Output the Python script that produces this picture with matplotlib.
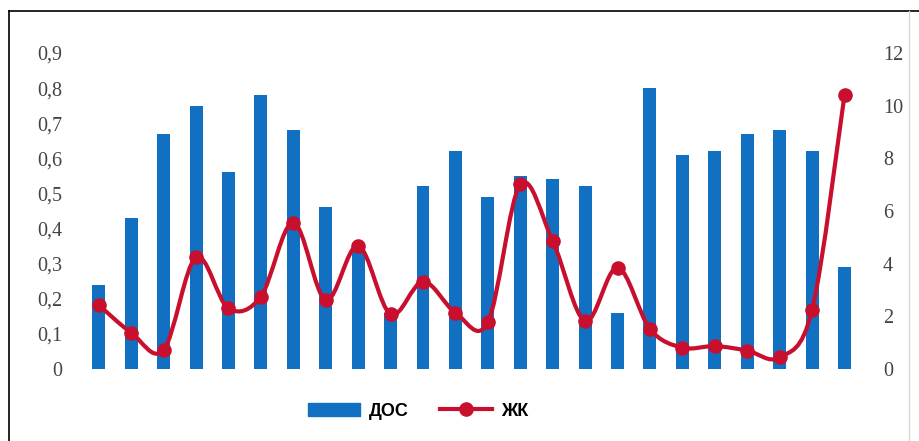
import matplotlib
matplotlib.use("Agg")
import matplotlib.pyplot as plt
import numpy as np
from matplotlib.path import Path
from matplotlib.patches import PathPatch, Rectangle
from matplotlib.lines import Line2D
from matplotlib.ticker import FuncFormatter

# Series values
dos = [0.24, 0.43, 0.67, 0.75, 0.56, 0.78, 0.68, 0.46, 0.36, 0.16, 0.52, 0.62,
       0.49, 0.55, 0.54, 0.52, 0.16, 0.80, 0.61, 0.62, 0.67, 0.68, 0.62, 0.29]
zhk = [2.43, 1.38, 0.72, 4.24, 2.30, 2.75, 5.56, 2.62, 4.68, 2.08, 3.32, 2.14,
       1.77, 7.01, 4.86, 1.82, 3.85, 1.52, 0.81, 0.87, 0.70, 0.44, 2.24, 10.41]
left_ticks = [0, 0.1, 0.2, 0.3, 0.4, 0.5, 0.6, 0.7, 0.8, 0.9]
right_ticks = [0, 2, 4, 6, 8, 10, 12]
labels = ["ДОС", "ЖК"]

BLUE = "#1170C2"
RED = "#C8102E"
TICK_COLOR = "#444444"

fig = plt.figure(figsize=(9.19, 4.41), dpi=100)
ax = fig.add_axes([0.0898, 0.1633, 0.8468, 0.7165])
x = np.arange(len(dos))

ax.bar(x, dos, width=0.4, color=BLUE, zorder=2)
ax.set_xlim(-0.5, len(dos) - 0.5)
ax.set_ylim(0, 0.9)
ax.set_yticks(left_ticks)
ax.yaxis.set_major_formatter(FuncFormatter(lambda v, p: "0" if v == 0 else f"{v:.1f}".replace(".", ",")))
ax.set_xticks([])
for s in ax.spines.values():
    s.set_visible(False)
ax.tick_params(axis="y", length=0, pad=14.5, labelsize=14.5, labelcolor=TICK_COLOR)
for t in ax.get_yticklabels():
    t.set_fontfamily("Liberation Serif")

ax2 = ax.twinx()
ax2.set_ylim(0, 12)
ax2.set_yticks(right_ticks)
ax2.set_xticks([])
for s in ax2.spines.values():
    s.set_visible(False)
ax2.tick_params(axis="y", length=0, pad=16, labelsize=14.5, labelcolor=TICK_COLOR)
for t in ax2.get_yticklabels():
    t.set_fontfamily("Liberation Serif")

# Smoothed line through the points (cubic Bezier, Catmull-Rom style)
pts = np.column_stack([x, zhk]).astype(float)
verts = [pts[0]]
codes = [Path.MOVETO]
n = len(pts)
for i in range(n - 1):
    p0 = pts[i - 1] if i > 0 else pts[i]
    p1 = pts[i]
    p2 = pts[i + 1]
    p3 = pts[i + 2] if i + 2 < n else pts[i + 1]
    c1 = p1 + (p2 - p0) / 6.0
    c2 = p2 - (p3 - p1) / 6.0
    verts += [c1, c2, p2]
    codes += [Path.CURVE4] * 3
curve = PathPatch(Path(verts, codes), facecolor="none", edgecolor=RED, lw=3.0,
                  capstyle="round", joinstyle="round", zorder=3)
ax2.add_patch(curve)
ax2.plot(x, zhk, linestyle="none", marker="o", markersize=9.5, color=RED, zorder=4)

# Legend
handles = [Rectangle((0, 0), 1, 1, color=BLUE),
           Line2D([0], [0], color=RED, lw=3.0, marker="o", markersize=9.5)]
leg = fig.legend(handles, labels, loc="center", bbox_to_anchor=(0.455, 0.068),
                 ncol=2, frameon=False, handlelength=2.9, handletextpad=0.5,
                 columnspacing=1.7, prop={"family": "Liberation Sans", "weight": "bold", "size": 13})

# Frame around the chart
fig.add_artist(Line2D([0.0098, 0.0098], [0.0, 0.974], color="black", lw=1.2, transform=fig.transFigure))
fig.add_artist(Line2D([0.0098, 1.0], [0.974, 0.974], color="black", lw=1.2, transform=fig.transFigure))
fig.add_artist(Line2D([0.989, 0.989], [0.0, 0.974], color="#d8d8d8", lw=1.0, transform=fig.transFigure))

fig.savefig("out.png", dpi=100)
